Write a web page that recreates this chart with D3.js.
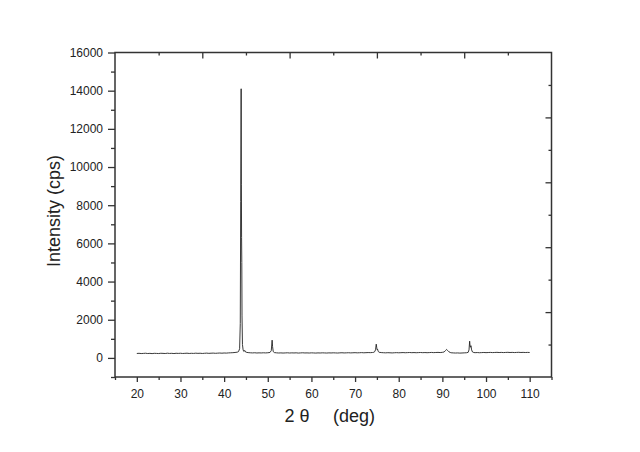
<!DOCTYPE html>
<html><head><meta charset="utf-8">
<script src="https://cdn.jsdelivr.net/npm/d3@7"></script>
<style>body{margin:0;background:#fff}svg{display:block}text{font-family:Arial,"Liberation Sans",sans-serif;fill:#222}</style>
</head><body>
<svg id="c" width="640" height="452"></svg>
<script>
const twoTheta = [20.0,20.5,21.0,21.5,22.0,22.5,23.0,23.5,24.0,24.5,25.0,25.5,26.0,26.5,27.0,27.5,28.0,28.5,29.0,29.5,30.0,30.5,31.0,31.5,32.0,32.5,33.0,33.5,34.0,34.5,35.0,35.5,36.0,36.5,37.0,37.5,38.0,38.5,39.0,39.5,40.0,40.5,41.0,41.5,42.0,42.5,43.0,43.3,43.55,43.7,43.8,43.9,43.95,44.0,44.05,44.1,44.2,44.35,44.5,44.75,44.9,45.2,45.5,46.0,46.5,47.0,47.5,48.0,48.5,49.0,49.5,50.0,50.5,50.8,51.0,51.1,51.25,51.5,52.0,52.5,53.0,53.5,54.0,54.5,55.0,55.5,56.0,56.5,57.0,57.5,58.0,58.5,59.0,59.5,60.0,60.5,61.0,61.5,62.0,62.5,63.0,63.5,64.0,64.5,65.0,65.5,66.0,66.5,67.0,67.5,68.0,68.5,69.0,69.5,70.0,70.5,71.0,71.5,72.0,72.5,73.0,73.5,74.0,74.3,74.55,74.7,74.85,74.95,75.05,75.15,75.3,75.5,76.0,76.5,77.0,77.5,78.0,78.5,79.0,79.5,80.0,80.5,81.0,81.5,82.0,82.5,83.0,83.5,84.0,84.5,85.0,85.5,86.0,86.5,87.0,87.5,88.0,88.5,89.0,89.5,90.0,90.4,90.7,90.95,91.2,91.5,91.8,92.0,92.5,93.0,93.5,94.0,94.5,95.0,95.5,95.9,96.1,96.25,96.35,96.45,96.55,96.7,96.9,97.2,97.5,98.0,98.5,99.0,99.5,100.0,100.5,101.0,101.5,102.0,102.5,103.0,103.5,104.0,104.5,105.0,105.5,106.0,106.5,107.0,107.5,108.0,108.5,109.0,109.5,110.0];
const intensity = [232,241,228,236,245,230,238,226,240,235,229,243,237,231,246,234,240,228,242,236,244,232,239,247,233,241,236,248,238,245,233,242,250,239,246,252,241,249,256,247,258,252,263,268,274,285,300,330,480,1800,8200,14100,9100,6300,5000,2200,700,420,340,390,310,290,278,268,262,270,258,265,260,268,262,270,285,380,930,600,330,280,266,258,263,255,261,268,257,264,259,266,254,262,268,259,263,256,265,260,254,263,258,266,261,255,264,259,267,262,256,265,270,261,266,272,263,269,274,266,271,277,268,274,280,276,284,295,340,450,720,560,430,460,340,295,280,272,266,274,268,262,270,276,268,274,280,271,277,283,274,280,272,278,284,275,281,273,279,286,277,283,289,281,292,310,380,445,390,320,285,270,262,255,261,252,258,264,270,290,420,875,620,560,640,420,310,282,275,281,272,278,285,276,282,288,279,285,291,282,288,280,286,292,283,289,281,287,293,284,290,282,288,284];
const xMajor = [20,30,40,50,60,70,80,90,100,110];
const xMinor = [15,25,35,45,55,65,75,85,95,105,115];
const yMajor = [0,2000,4000,6000,8000,10000,12000,14000,16000];
const yMinor = [-1000,1000,3000,5000,7000,9000,11000,13000,15000];

const svg = d3.select("#c");
const L = 115, T = 52.5, R = 551.5, B = 377;
const x = d3.scaleLinear().domain([15,115]).range([L,R]);
const y = d3.scaleLinear().domain([-1000,16000]).range([B,T]);
const sec = d3.scaleLinear().domain([0,10]);
const xt = sec.copy().range([L,R]);
const yr = sec.copy().range([B,T]);

svg.append("rect").attr("width",640).attr("height",452).attr("fill","#fff");

function style(g){ g.select(".domain").remove(); g.selectAll("line").attr("stroke","#333").attr("stroke-width",1.3); g.selectAll("text").attr("font-size",12).attr("fill","#222").style("font-family","Arial, 'Liberation Sans', sans-serif"); }

// left axis
svg.append("g").attr("transform",`translate(${L},0)`).call(d3.axisLeft(y).tickValues(yMajor).tickSize(7).tickPadding(5).tickFormat(d3.format("d"))).call(style);
svg.append("g").attr("transform",`translate(${L},0)`).call(d3.axisLeft(y).tickValues(yMinor).tickSize(4).tickFormat("")).call(style);
// bottom axis
svg.append("g").attr("transform",`translate(0,${B})`).call(d3.axisBottom(x).tickValues(xMajor).tickSize(5).tickPadding(7)).call(style);
svg.append("g").attr("transform",`translate(0,${B})`).call(d3.axisBottom(x).tickValues(xMinor).tickSize(3).tickFormat("")).call(style);
// top axis (inward)
svg.append("g").attr("transform",`translate(0,${T})`).call(d3.axisTop(xt).tickValues([2,4,6,8]).tickSize(-6).tickFormat("")).call(style);
svg.append("g").attr("transform",`translate(0,${T})`).call(d3.axisTop(xt).tickValues([1,3,5,7,9]).tickSize(-3).tickFormat("")).call(style);
// right axis (inward)
svg.append("g").attr("transform",`translate(${R},0)`).call(d3.axisRight(yr).tickValues([2,4,6,8]).tickSize(-6).tickFormat("")).call(style);
svg.append("g").attr("transform",`translate(${R},0)`).call(d3.axisRight(yr).tickValues([1,3,5,7,9]).tickSize(-3).tickFormat("")).call(style);

// frame
svg.append("rect").attr("x",L).attr("y",T).attr("width",R-L).attr("height",B-T).attr("fill","none").attr("stroke","#333").attr("stroke-width",1.5);

// data line
const pts = twoTheta.map((t,i)=>[t,intensity[i]]);
svg.append("path").datum(pts).attr("fill","none").attr("stroke","#222").attr("stroke-width",0.9)
  .attr("d", d3.line().x(d=>x(d[0])).y(d=>y(d[1])));

// titles
svg.append("text").attr("transform","translate(60,211) rotate(-90)").attr("text-anchor","middle").attr("font-size",18).text("Intensity (cps)");
svg.append("text").attr("x",297).attr("y",421.5).attr("text-anchor","middle").attr("font-size",18).text("2 θ");
svg.append("text").attr("x",354).attr("y",421.5).attr("text-anchor","middle").attr("font-size",18).text("(deg)");
</script>
</body></html>
